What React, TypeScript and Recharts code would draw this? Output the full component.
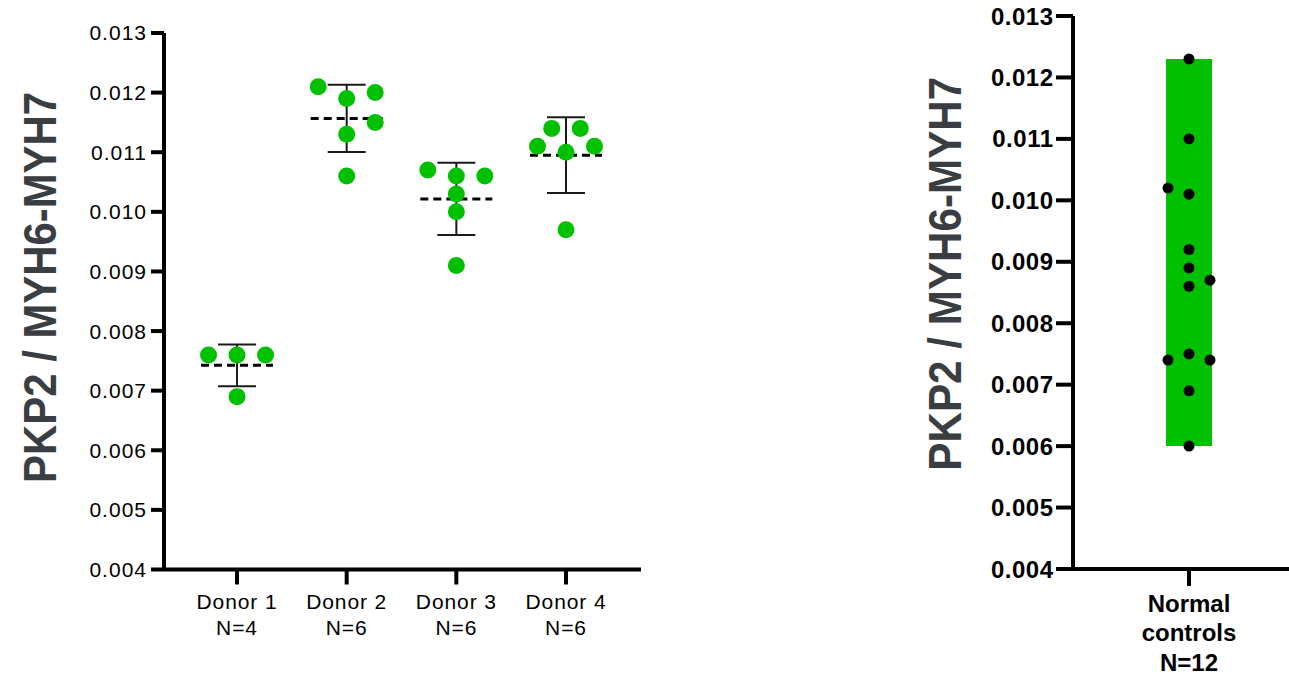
import React from 'react';
import { ComposedChart, Scatter, XAxis, YAxis, ErrorBar, Bar } from 'recharts';

// ---------- data ----------
const donorCategories = ['Donor 1', 'Donor 2', 'Donor 3', 'Donor 4'];
const donorCounts = ['N=4', 'N=6', 'N=6', 'N=6'];

const donor1Values = [0.0076, 0.0076, 0.0076, 0.0069];
const donor1Columns = [-2, 0, 2, 0];
const donor2Values = [0.0121, 0.0119, 0.012, 0.0115, 0.0113, 0.0106];
const donor2Columns = [-2, 0, 2, 2, 0, 0];
const donor3Values = [0.0107, 0.0106, 0.0106, 0.0103, 0.01, 0.0091];
const donor3Columns = [-2, 0, 2, 0, 0, 0];
const donor4Values = [0.0111, 0.0114, 0.0114, 0.0111, 0.011, 0.0097];
const donor4Columns = [-2, -1, 1, 2, 0, 0];

const controlCategory = ['Normal', 'controls', 'N=12'];
const controlValues = [0.0123, 0.011, 0.0102, 0.0101, 0.0092, 0.0089, 0.0087, 0.0086, 0.0074, 0.0075, 0.0074, 0.0069, 0.006];
const controlColumns = [0, 0, -1, 0, 0, 0, 1, 0, -1, 0, 1, 0, 0];

const yTicks = [0.004, 0.005, 0.006, 0.007, 0.008, 0.009, 0.01, 0.011, 0.012, 0.013];
const yTitle = 'PKP2 / MYH6-MYH7';

// ---------- derived ----------
const donorValues = [donor1Values, donor2Values, donor3Values, donor4Values];
const donorColumns = [donor1Columns, donor2Columns, donor3Columns, donor4Columns];
const COL_STEP = 0.13;
const CTRL_STEP = 0.181;

const mean = (a: number[]) => a.reduce((s, v) => s + v, 0) / a.length;
const sd = (a: number[]) => {
  const m = mean(a);
  return Math.sqrt(a.reduce((s, v) => s + (v - m) * (v - m), 0) / (a.length - 1));
};

const donorPoints = donorValues.flatMap((vals, i) =>
  vals.map((v, j) => ({ x: i + 1 + donorColumns[i][j] * COL_STEP, y: v }))
);
const donorStats = donorValues.map((vals, i) => ({ x: i + 1, y: mean(vals), sd: sd(vals) }));

const controlPoints = controlValues.map((v, j) => ({ x: 1 + controlColumns[j] * CTRL_STEP, y: v }));
const controlBar = [{ name: controlCategory.join(' '), range: [Math.min(...controlValues), Math.max(...controlValues)] }];

const FONT = '"Liberation Sans", Arial, Helvetica, sans-serif';
const GREEN = '#00c000';
const TITLE_COLOR = '#3a3d41';

// ---------- custom pieces ----------
const LeftYTick = (props: any) => {
  const { x, y, payload } = props;
  return (
    <text x={x + 1} y={y} dy="0.355em" textAnchor="end" fontFamily={FONT} fontSize={21} letterSpacing={1} fill="#000">
      {Number(payload.value).toFixed(3)}
    </text>
  );
};

const RightYTick = (props: any) => {
  const { x, y, payload } = props;
  return (
    <text x={x + 0.5} y={y} dy="0.355em" textAnchor="end" fontFamily={FONT} fontSize={24} fontWeight="bold" letterSpacing={0.5} fill="#000">
      {Number(payload.value).toFixed(3)}
    </text>
  );
};

const DonorTick = (props: any) => {
  const { x, y, payload } = props;
  const idx = Math.round(payload.value) - 1;
  return (
    <g>
      <text x={x} y={y + 24.8} textAnchor="middle" fontFamily={FONT} fontSize={21} letterSpacing={0.9} fill="#000">
        {donorCategories[idx]}
      </text>
      <text x={x} y={y + 50.3} textAnchor="middle" fontFamily={FONT} fontSize={21} letterSpacing={0.9} fill="#000">
        {donorCounts[idx]}
      </text>
    </g>
  );
};

const ControlTick = (props: any) => {
  const { x, y } = props;
  return (
    <g>
      {controlCategory.map((t, i) => (
        <text key={t} x={x} y={y + 25.7 + i * 29.5} textAnchor="middle" fontFamily={FONT} fontSize={24} fontWeight="bold" fill="#000">
          {t}
        </text>
      ))}
    </g>
  );
};

const AxisTitle = ({ tx, ty, len }: { tx: number; ty: number; len: number }) => (
  <text
    x={tx}
    y={ty}
    transform={`rotate(-90, ${tx}, ${ty})`}
    textAnchor="middle"
    fontFamily={FONT}
    fontSize={46}
    fontWeight="bold"
    fill={TITLE_COLOR}
    textLength={len}
    lengthAdjust="spacingAndGlyphs"
  >
    {yTitle}
  </text>
);

const GreenDot = (props: any) => <circle cx={props.cx} cy={props.cy} r={8.5} fill={GREEN} />;
const BlackDot = (props: any) => <circle cx={props.cx} cy={props.cy} r={5.5} fill="#000" />;
const MeanLine = (props: any) => (
  <line x1={props.cx - 36} x2={props.cx + 36} y1={props.cy} y2={props.cy} stroke="#000" strokeWidth={3} strokeDasharray="8 5" />
);

export default function App() {
  return (
    <div style={{ position: 'relative', width: 1289, height: 675, overflow: 'hidden', background: '#fff' }}>
      <style>{`body{margin:0;overflow:hidden;background:#fff}`}</style>

      {/* Left chart */}
      <div style={{ position: 'absolute', left: 0, top: 0 }}>
        <ComposedChart width={660} height={675} margin={{ top: 33, right: 19, bottom: 45.5, left: 0 }}>
          <XAxis
            type="number"
            dataKey="x"
            domain={[0.334, 4.684]}
            ticks={[1, 2, 3, 4]}
            interval={0}
            allowDataOverflow
            height={60}
            axisLine={{ stroke: '#000', strokeWidth: 4 }}
            tickLine={{ stroke: '#000', strokeWidth: 4 }}
            tickSize={15}
            tickMargin={0}
            tick={<DonorTick />}
          />
          <YAxis
            type="number"
            dataKey="y"
            domain={[0.004, 0.013]}
            ticks={yTicks}
            interval={0}
            allowDataOverflow
            width={164}
            axisLine={{ stroke: '#000', strokeWidth: 4 }}
            tickLine={{ stroke: '#000', strokeWidth: 4 }}
            tickSize={13}
            tickMargin={5}
            tick={<LeftYTick />}
            label={<AxisTitle tx={56.5} ty={287.4} len={391} />}
          />
          <Scatter data={donorStats} shape={<MeanLine />} isAnimationActive={false}>
            <ErrorBar dataKey="sd" direction="y" width={19} stroke="#1a1a1a" strokeWidth={2} isAnimationActive={false} />
          </Scatter>
          <Scatter data={donorPoints} shape={<GreenDot />} isAnimationActive={false} />
        </ComposedChart>
      </div>

      {/* Right chart */}
      <div style={{ position: 'absolute', left: 880, top: 0 }}>
        <ComposedChart width={430} height={675} data={controlBar} margin={{ top: 16, right: 5, bottom: 46, left: 0 }}>
          <XAxis
            xAxisId="cat"
            type="category"
            dataKey="name"
            height={60}
            axisLine={{ stroke: '#000', strokeWidth: 4 }}
            tickLine={{ stroke: '#000', strokeWidth: 4 }}
            tickSize={17}
            tickMargin={0}
            tick={<ControlTick />}
          />
          <XAxis xAxisId="num" type="number" dataKey="x" domain={[0, 2]} hide allowDataOverflow />
          <YAxis
            type="number"
            dataKey="y"
            domain={[0.004, 0.013]}
            ticks={yTicks}
            interval={0}
            allowDataOverflow
            width={193}
            axisLine={{ stroke: '#000', strokeWidth: 4 }}
            tickLine={{ stroke: '#000', strokeWidth: 4 }}
            tickSize={17}
            tickMargin={3}
            tick={<RightYTick />}
            label={<AxisTitle tx={81} ty={273.7} len={394} />}
          />
          <Bar xAxisId="cat" dataKey="range" fill={GREEN} barSize={46} isAnimationActive={false} />
          <Scatter xAxisId="num" data={controlPoints} shape={<BlackDot />} isAnimationActive={false} />
        </ComposedChart>
      </div>
    </div>
  );
}
